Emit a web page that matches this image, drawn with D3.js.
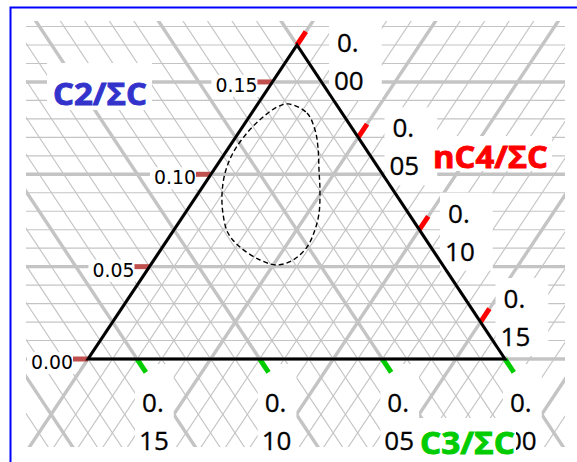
<!DOCTYPE html>
<html>
<head>
<meta charset="utf-8">
<script src="https://cdn.jsdelivr.net/npm/d3@7"></script>
<style>
  html, body { margin: 0; padding: 0; background: #fff; }
  svg { display: block; }
</style>
</head>
<body>
<svg id="chart" width="577" height="462"></svg>
<script>
// Sum C2 + C3 + nC4 (fractions of ΣC) that is constant over the triangle
const TOTAL = 0.17;
const GRID_STEP = 0.01;
const GRID_MAJOR_EVERY = 5;

// Axis ticks
const c2Ticks = [0.00, 0.05, 0.10, 0.15];
const c2TickLabels = ["0.00", "0.05", "0.10", "0.15"];
const nc4Ticks = [0.00, 0.05, 0.10, 0.15];
const nc4TickLabels = [["0.", "00"], ["0.", "05"], ["0.", "10"], ["0.", "15"]];
const c3Ticks = [0.15, 0.10, 0.05, 0.00];
const c3TickLabels = [["0.", "15"], ["0.", "10"], ["0.", "05"], ["0.", "00"]];

// Axis titles
const axisTitles = ["C2/ΣC", "nC4/ΣC", "C3/ΣC"];

// Closed envelope of the samples, given as C2 and nC4 fractions
const envelopeC2 = [0.1381, 0.1332, 0.1240, 0.1148, 0.1023, 0.0915, 0.0790, 0.0698, 0.0606, 0.0536, 0.0509,
                    0.0536, 0.0606, 0.0682, 0.0790, 0.0899, 0.1007, 0.1115, 0.1224, 0.1310, 0.1364];
const envelopeNC4 = [0.0124, 0.0225, 0.0304, 0.0362, 0.0429, 0.0487, 0.0546, 0.0575, 0.0589, 0.0567, 0.0515,
                     0.0433, 0.0316, 0.0229, 0.0154, 0.0096, 0.0054, 0.0032, 0.0035, 0.0057, 0.0087];

// ---------------------------------------------------------------- layout
const plot = { x0: 26, y0: 21, x1: 565, y1: 447 };
const base = { left: 88, right: 505, y: 359 };
const apexX = 297, apexY = 45;

const yC2 = d3.scaleLinear().domain([0, TOTAL]).range([base.y, apexY]);
const xNC4 = d3.scaleLinear().domain([0, TOTAL]).range([0, base.right - base.left]);
const xShift = d3.scaleLinear().domain([0, TOTAL]).range([0, apexX - base.left]);

// (C2, nC4) -> screen; C3 is TOTAL - C2 - nC4
function project(c2, n) {
  return [base.left + xNC4(n) + xShift(c2), yC2(c2)];
}
function unit(v) { const l = Math.hypot(v[0], v[1]); return [v[0] / l, v[1] / l]; }

const svg = d3.select("#chart");

// frame
svg.append("rect")
  .attr("x", 10.5).attr("y", 7.5).attr("width", 620).attr("height", 500)
  .attr("fill", "#fff").attr("stroke", "#0000ff").attr("stroke-width", 2);

svg.append("clipPath").attr("id", "plot-clip")
  .append("rect")
  .attr("x", plot.x0).attr("y", plot.y0)
  .attr("width", plot.x1 - plot.x0).attr("height", plot.y1 - plot.y0);

// ---------------------------------------------------------------- grid
const gridValues = d3.range(0, 26).map(k => ({ k, v: k * GRID_STEP }));
const grid = svg.append("g").attr("clip-path", "url(#plot-clip)");

function gridStyle(sel) {
  return sel.attr("stroke", "#c4c4c4")
    .attr("stroke-width", d => d.k % GRID_MAJOR_EVERY === 0 ? 3.4 : 1.15)
    .attr("fill", "none");
}

// constant C2: horizontal
gridStyle(grid.append("g").selectAll("line")
  .data(gridValues.filter(d => yC2(d.v) >= plot.y0 - 2))
  .join("line")
  .attr("x1", plot.x0).attr("x2", plot.x1)
  .attr("y1", d => yC2(d.v)).attr("y2", d => yC2(d.v)));

// constant nC4: parallel to the left edge
gridStyle(grid.append("g").selectAll("line")
  .data(gridValues)
  .join("line")
  .each(function (d) {
    const a = project(-0.2, d.v), b = project(0.4, d.v);
    d3.select(this).attr("x1", a[0]).attr("y1", a[1]).attr("x2", b[0]).attr("y2", b[1]);
  }));

// constant C3: parallel to the right edge
gridStyle(grid.append("g").selectAll("line")
  .data(gridValues)
  .join("line")
  .each(function (d) {
    const a = project(-0.2, TOTAL - d.v + 0.2), b = project(0.4, TOTAL - d.v - 0.4);
    d3.select(this).attr("x1", a[0]).attr("y1", a[1]).attr("x2", b[0]).attr("y2", b[1]);
  }));

// ---------------------------------------------------------------- tick labels
const labels = svg.append("g");

// C2 labels along the left edge
c2Ticks.forEach((v, i) => {
  const [ex, ey] = project(v, 0);
  const g = labels.append("g");
  const t = g.append("text")
    .attr("x", ex - 15).attr("y", ey + 10)
    .attr("text-anchor", "end")
    .attr("font-family", "DejaVu Sans").attr("font-size", 19.5)
    .attr("textLength", 42).attr("lengthAdjust", "spacingAndGlyphs")
    .attr("fill", "#000")
    .text(c2TickLabels[i]);
  const bb = t.node().getBBox();
  g.insert("rect", "text")
    .attr("x", bb.x - 4).attr("y", bb.y + 1)
    .attr("width", bb.width + 6).attr("height", bb.height - 1)
    .attr("fill", "#fff");
});

function stackedLabel(x, y, lines, pad) {
  const g = labels.append("g");
  const t = g.append("text")
    .attr("font-family", "'Open Sans'").attr("font-size", 26)
    .attr("fill", "#000").attr("stroke", "#000").attr("stroke-width", 0.3);
  t.append("tspan").attr("x", x).attr("y", y).text(lines[0]);
  t.append("tspan").attr("x", x - 3).attr("y", y + 38).text(lines[1]);
  const bb = t.node().getBBox();
  const top = pad.top === "plot" ? plot.y0 : bb.y - pad.top;
  const bottom = pad.bottom === "plot" ? plot.y1 : bb.y + bb.height + pad.bottom;
  g.insert("rect", "text")
    .attr("x", bb.x - pad.left).attr("y", top)
    .attr("width", bb.width + pad.left + pad.right).attr("height", bottom - top)
    .attr("fill", "#fff");
}

// nC4 labels beside the right edge
const nc4OffX = d3.scaleLinear().domain([0, 0.15]).range([40, 23]);
const nc4OffY = d3.scaleLinear().domain([0, 0.15]).range([7, -14]);
nc4Ticks.forEach((v, i) => {
  const [tx, ty] = project(TOTAL - v, v);
  stackedLabel(tx + nc4OffX(v), ty + nc4OffY(v), nc4TickLabels[i],
    { left: 5, right: 18, top: i === 0 ? "plot" : 2, bottom: 2 });
});

// C3 labels under the base
c3Ticks.forEach((v, i) => {
  const [tx] = project(0, TOTAL - v);
  stackedLabel(tx + 5, 412, c3TickLabels[i], { left: 4, right: 5, top: 20, bottom: "plot" });
});

// ---------------------------------------------------------------- axis titles
function title(text, x, y, width, color, box) {
  svg.append("rect")
    .attr("x", box[0]).attr("y", box[1]).attr("width", box[2]).attr("height", box[3])
    .attr("fill", "#fff");
  svg.append("text")
    .attr("x", x).attr("y", y)
    .attr("font-family", "'Open Sans'").attr("font-weight", 700).attr("font-size", 31)
    .attr("textLength", width).attr("lengthAdjust", "spacingAndGlyphs")
    .attr("fill", color).attr("stroke", color).attr("stroke-width", 0.9)
    .text(text);
}
title(axisTitles[0], 53, 105, 94, "#3333cc", [47, 63, 105, 47]);
title(axisTitles[1], 433, 168, 115, "#ff0000", [428, 136, 124, 35]);
title(axisTitles[2], 420, 454, 95, "#00cc00", [415, 418, 101, 44]);

// ---------------------------------------------------------------- ticks
const ticks = svg.append("g");

// C2: short bars left of the left edge
ticks.selectAll("rect.c2")
  .data(c2Ticks)
  .join("rect")
  .attr("x", v => project(v, 0)[0] - 15)
  .attr("y", v => yC2(v) - 2.5)
  .attr("width", 15).attr("height", 5)
  .attr("fill", "#c0504d");

// nC4: along constant-nC4 direction, outward from the right edge
const dirN = unit([xShift(TOTAL), yC2(TOTAL) - yC2(0)]);
ticks.selectAll("line.n")
  .data(nc4Ticks)
  .join("line")
  .each(function (v) {
    const p = project(TOTAL - v, v);
    d3.select(this)
      .attr("x1", p[0]).attr("y1", p[1])
      .attr("x2", p[0] + dirN[0] * 16).attr("y2", p[1] + dirN[1] * 16);
  })
  .attr("stroke", "#ff0000").attr("stroke-width", 5);

// C3: along constant-C3 direction, downward from the base
const dirC = unit([xNC4(TOTAL) - xShift(TOTAL), yC2(0) - yC2(TOTAL)]);
ticks.selectAll("line.c")
  .data(c3Ticks)
  .join("line")
  .each(function (v) {
    const p = project(0, TOTAL - v);
    d3.select(this)
      .attr("x1", p[0]).attr("y1", p[1])
      .attr("x2", p[0] + dirC[0] * 16).attr("y2", p[1] + dirC[1] * 16);
  })
  .attr("stroke", "#00cc00").attr("stroke-width", 5);

// ---------------------------------------------------------------- triangle
const corners = [project(TOTAL, 0), project(0, TOTAL), project(0, 0)];
svg.append("path")
  .attr("d", d3.line()(corners) + "Z")
  .attr("fill", "none").attr("stroke", "#000").attr("stroke-width", 3)
  .attr("stroke-linejoin", "miter");

// ---------------------------------------------------------------- envelope
const envelope = envelopeC2.map((c2, i) => project(c2, envelopeNC4[i]));
svg.append("path")
  .attr("d", d3.line().curve(d3.curveCatmullRomClosed.alpha(0.5))(envelope))
  .attr("fill", "none").attr("stroke", "#000").attr("stroke-width", 1.4)
  .attr("stroke-dasharray", "5,3");
</script>
</body>
</html>
